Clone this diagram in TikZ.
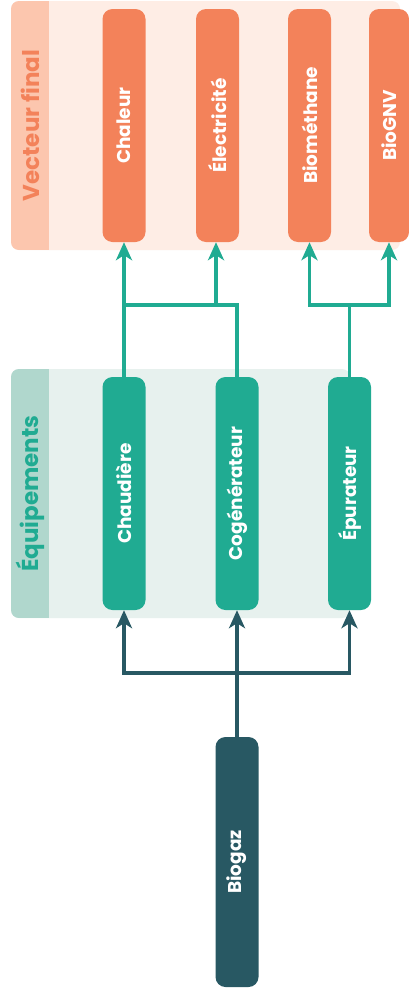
\documentclass[tikz,border=0pt]{standalone}
\usepackage{fontspec}
\setmainfont{Poppins}
\usetikzlibrary{arrows.meta}
\definecolor{orangebox}{HTML}{F3825A}
\definecolor{orangepanel}{HTML}{FEEDE5}
\definecolor{orangestrip}{HTML}{FCC6AE}
\definecolor{greenbox}{HTML}{20AB92}
\definecolor{greenpanel}{HTML}{E7F1EE}
\definecolor{greenstrip}{HTML}{B0D7CD}
\definecolor{darkbox}{HTML}{285863}
\newcommand{\panneau}[8] % x1, y1, x2, y2, fond, bande, nom, titre
{
	% fond du panneau
	\fill[#5, rounded corners=8pt] (#1,#2) rectangle (#3,#4);
	% bande du titre
	\begin{scope}
		\clip[rounded corners=8pt] (#1,#2) rectangle (#3,#4);
		\fill[#6] (#1,#2) rectangle (#1+38,#4);
	\end{scope}
	% titre
	\node[titre] (#7) at (#1+19,{(#2+#4)/2}) {\rotatebox{90}{#8}};
}

\begin{document}
\begin{tikzpicture}[x=1pt, y=-1pt,
	box/.style={rounded corners=10pt, minimum width=43pt, inner sep=0pt, text=white,
		font=\bfseries\fontsize{18.5}{18.5}\selectfont},
	titre/.style={inner sep=0pt, font=\bfseries\fontsize{23}{23}\selectfont},
	lienvert/.style={draw=greenbox, line width=3.5pt},
	flechevert/.style={lienvert, -{Stealth[length=18pt, width=16pt, inset=5pt]}},
	lienfonce/.style={draw=darkbox, line width=3.5pt},
	flechefonce/.style={lienfonce, -{Stealth[length=18pt, width=16pt, inset=5pt]}}]
	% 408px x 993px
	\useasboundingbox (0,0) rectangle (408,993);
	\fill[white] (0,0) rectangle (408,993);
	
	% panneaux
	\panneau{11}{1}{400}{250}{orangepanel}{orangestrip}{vecteur}{\textcolor{orangebox}{Vecteur final}}
	\panneau{11}{369}{350}{618}{greenpanel}{greenstrip}{equipements}{\textcolor{greenbox}{Équipements}}
	
	% vecteurs
	\node[box, fill=orangebox, minimum height=233pt] (chaleur) at (124,125.5) {\rotatebox{90}{Chaleur}};
	\node[box, fill=orangebox, minimum height=233pt] (elec) at (217.5,125.5) {\rotatebox{90}{Électricité}};
	\node[box, fill=orangebox, minimum height=233pt] (biomethane) at (309.5,125.5) {\rotatebox{90}{Biométhane}};
	\node[box, fill=orangebox, minimum height=233pt, minimum width=40pt] (biognv) at (389,125.5) {\rotatebox{90}{BioGNV}};
	
	% equipements
	\node[box, fill=greenbox, minimum height=233pt] (chaudiere) at (124,493.5) {\rotatebox{90}{Chaudière}};
	\node[box, fill=greenbox, minimum height=233pt] (cogenerateur) at (237,493.5) {\rotatebox{90}{Cogénérateur}};
	\node[box, fill=greenbox, minimum height=233pt] (epurateur) at (349.5,493.5) {\rotatebox{90}{Épurateur}};
	
	% source
	\node[box, fill=darkbox, minimum height=250pt] (biogaz) at (237,862) {\rotatebox{90}{Biogaz}};
	
	\coordinate (fourche) at (237,673);
	\coordinate (jonction) at (124,305);
	\coordinate (jonctionepu) at (349.5,305);
	\coordinate (jonctionelec) at (216,305);
	
	% biogaz vers equipements
	\draw[lienfonce] (biogaz.north) -- (fourche);
	\draw[flechefonce] (fourche) -| (chaudiere.south);
	\draw[flechefonce] (fourche) -- (cogenerateur.south);
	\draw[flechefonce] (fourche) -| (epurateur.south);
	
	% equipements vers vecteurs
	\draw[flechevert] (chaudiere.north) -- (chaleur.south);
	\draw[lienvert] (cogenerateur.north) |- (jonction);
	\draw[flechevert] (jonctionelec) -- (jonctionelec |- elec.south);
	\draw[lienvert] (epurateur.north) -- (jonctionepu);
	\draw[flechevert] (jonctionepu) -| (biomethane.south);
	\draw[flechevert] (jonctionepu) -| (biognv.south);
	
\end{tikzpicture}
\end{document}
